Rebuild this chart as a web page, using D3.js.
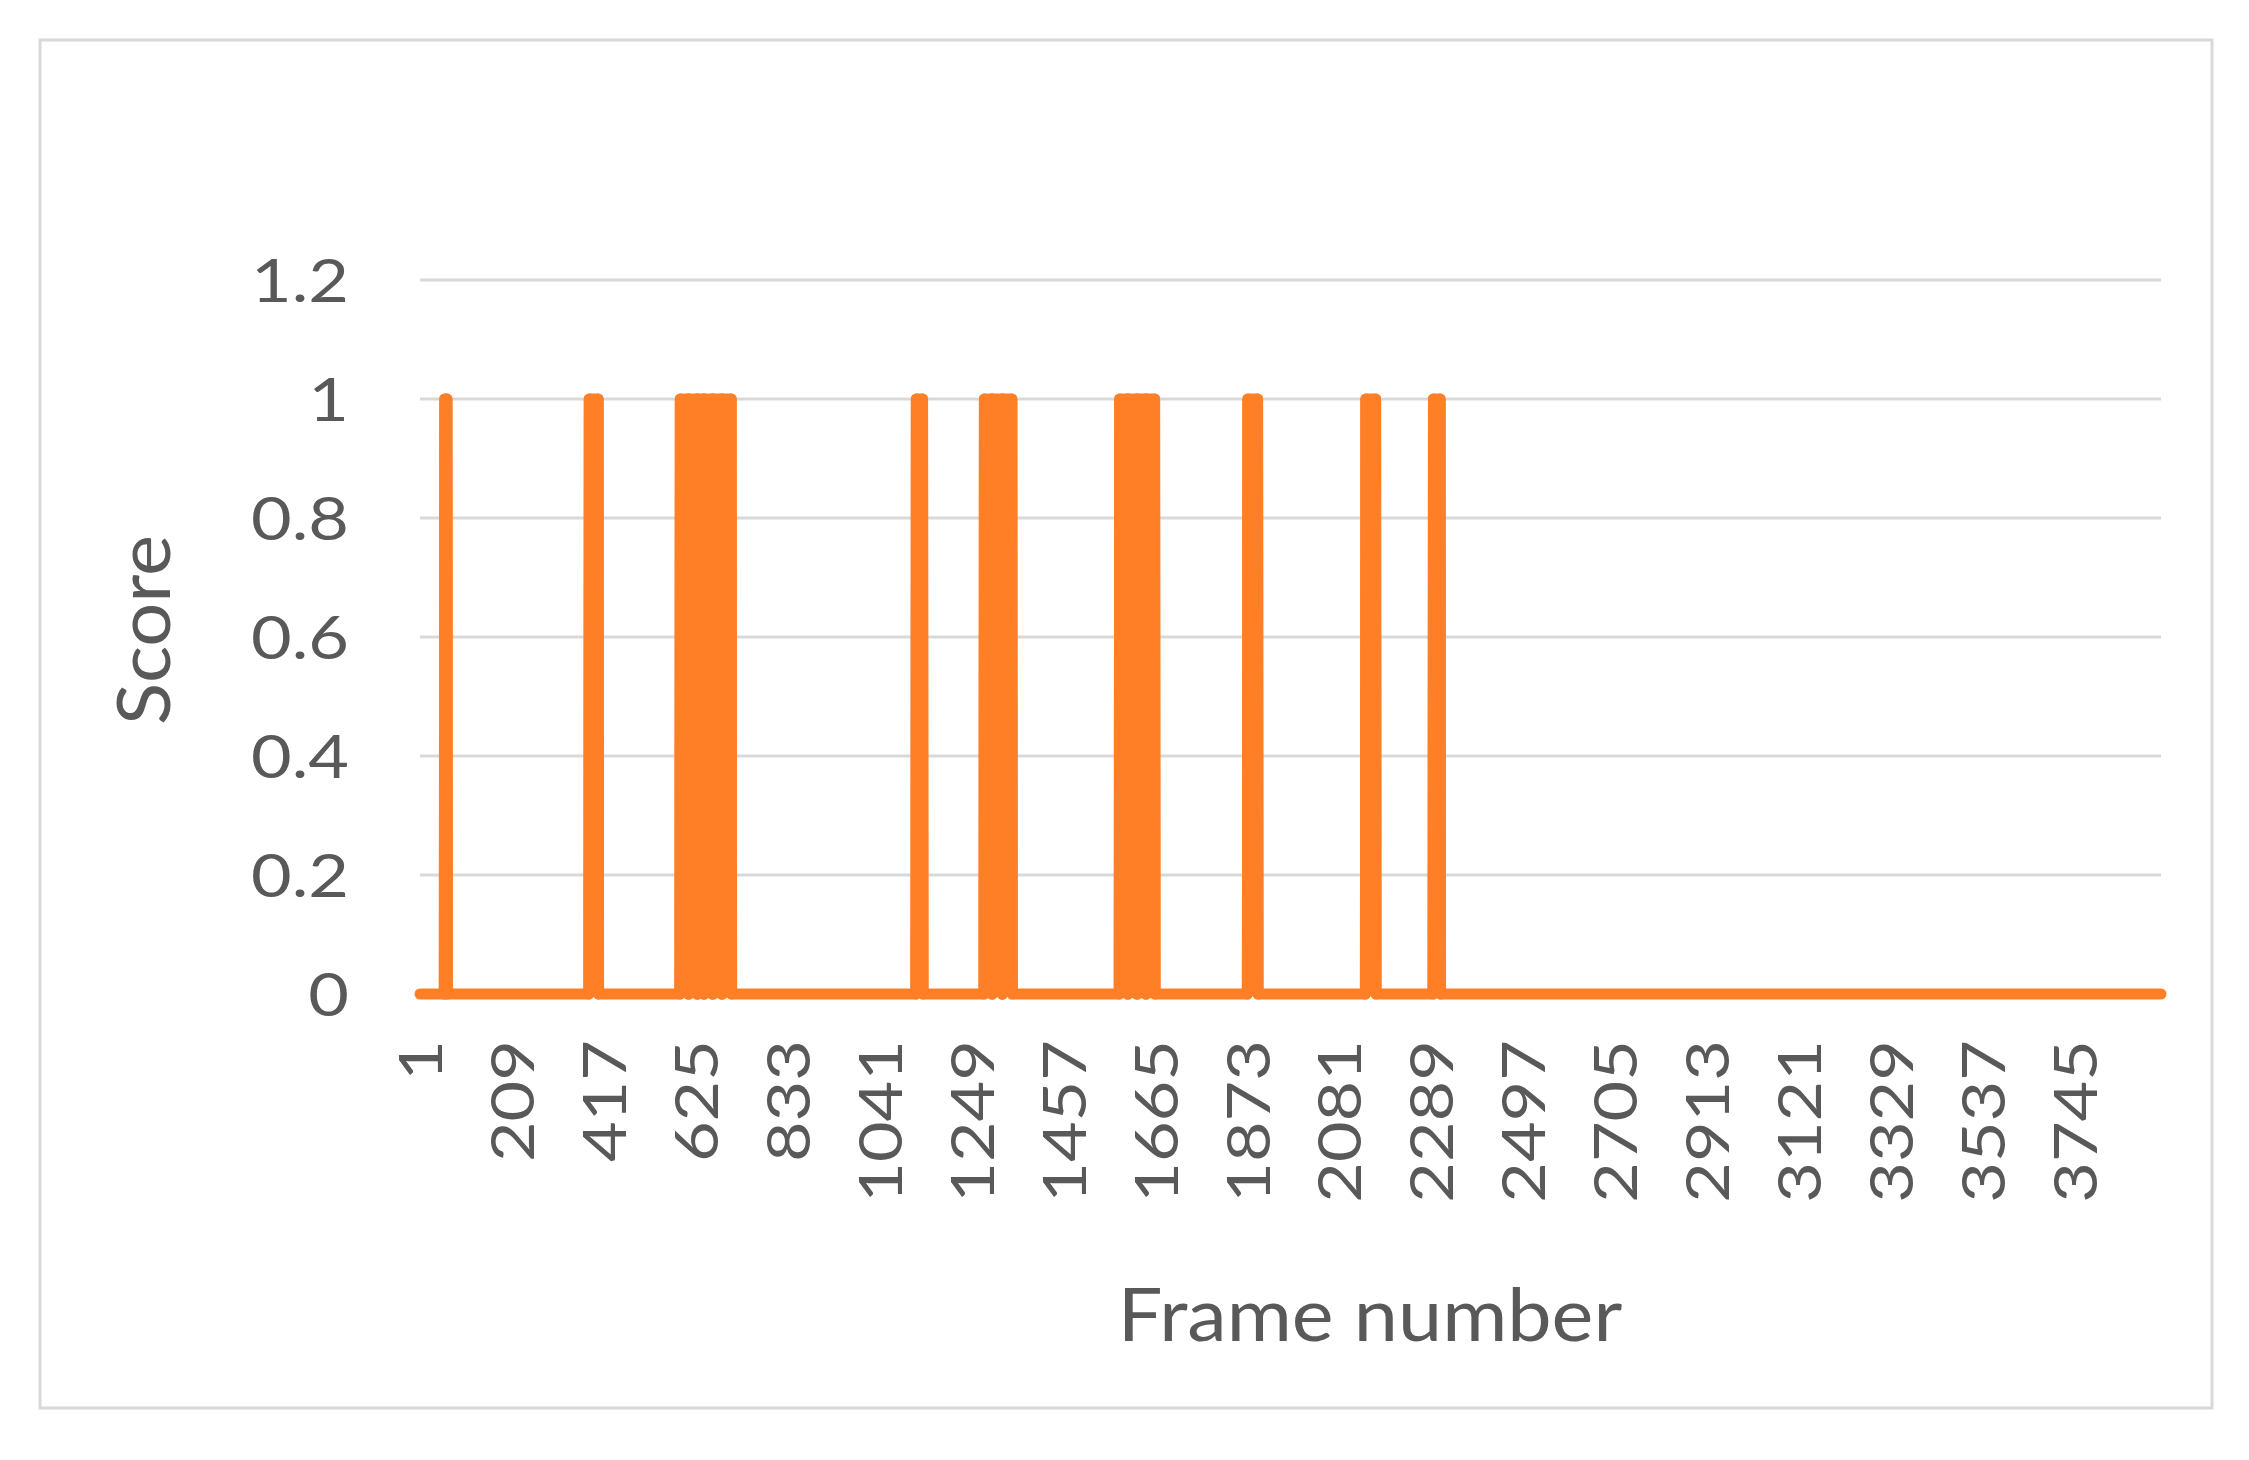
<!DOCTYPE html>
<html>
<head>
<meta charset="utf-8">
<script src="https://cdn.jsdelivr.net/npm/d3@7"></script>
<style>
    body { margin: 0; background: #fff; }
    text { font-family: Lato, "Open Sans", sans-serif; fill: #595959; }
</style>
</head>
<body>
<div id="chart"></div>
<script>
// frames 1..frameCount, score is 1 inside the runs below and 0 elsewhere
const frameCount = 3940;
const runStart = [57, 384, 590, 610, 630, 645, 665, 686, 1124, 1278, 1297, 1320, 1584, 1604, 1625, 1645, 1874, 2141, 2294];
const runEnd   = [62, 404, 607, 627, 642, 662, 683, 705, 1138, 1294, 1317, 1340, 1601, 1622, 1642, 1663, 1896, 2163, 2309];

const xTicks = [1, 209, 417, 625, 833, 1041, 1249, 1457, 1665, 1873, 2081, 2289, 2497, 2705, 2913, 3121, 3329, 3537, 3745];
const yTicks = [0, 0.2, 0.4, 0.6, 0.8, 1, 1.2];

const frames = d3.range(1, frameCount + 1);
const score = frames.map(f => runStart.some((s, i) => f >= s && f <= runEnd[i]) ? 1 : 0);

const width = 2249;
const height = 1460;
const plot = {left: 420, right: 2161, top: 280, bottom: 994};
const orange = "#ff7f27";
const stretch = 1.17; // tick digits are drawn wider than Lato's

const svg = d3.select("#chart").append("svg")
    .attr("width", width)
    .attr("height", height);

svg.append("rect")
    .attr("width", width)
    .attr("height", height)
    .attr("fill", "#fff");

// chart frame
svg.append("rect")
    .attr("x", 40)
    .attr("y", 40)
    .attr("width", 2172)
    .attr("height", 1368)
    .attr("fill", "none")
    .attr("stroke", "#d9d9d9")
    .attr("stroke-width", 3);

const x = d3.scaleLinear()
    .domain([1, frameCount])
    .range([plot.left, plot.right]);

const y = d3.scaleLinear()
    .domain([0, 1.2])
    .range([plot.bottom, plot.top]);

// gridlines
svg.append("g")
    .selectAll("line")
    .data(yTicks)
    .enter()
    .append("line")
    .attr("x1", plot.left)
    .attr("x2", plot.right)
    .attr("y1", d => y(d))
    .attr("y2", d => y(d))
    .attr("stroke", "#d9d9d9")
    .attr("stroke-width", 3);

// y axis labels
const yAxis = svg.append("g")
    .attr("transform", "translate(" + plot.left + ",0)")
    .call(d3.axisLeft(y).tickValues(yTicks).tickSize(0).tickFormat(d => String(d)));
yAxis.select(".domain").remove();
yAxis.selectAll("text")
    .style("font-size", "60px")
    .attr("x", -71 / stretch)
    .attr("transform", "scale(" + stretch + ",1)")
    .attr("dy", "0.36em");

// x axis labels, rotated
const xAxis = svg.append("g")
    .attr("transform", "translate(0," + plot.bottom + ")")
    .call(d3.axisBottom(x).tickValues(xTicks).tickSize(0).tickFormat(d => String(d)));
xAxis.select(".domain").remove();
xAxis.selectAll("text")
    .style("font-size", "60px")
    .attr("text-anchor", "end")
    .attr("transform", "rotate(-90) scale(" + stretch + ",1)")
    .attr("x", -46 / stretch)
    .attr("y", 0)
    .attr("dy", "0.36em");

// score line
const line = d3.line()
    .x((d, i) => x(frames[i]))
    .y(d => y(d));

const lineStyle = sel => sel
    .attr("fill", "none")
    .attr("stroke", orange)
    .attr("stroke-width", 11)
    .attr("stroke-linejoin", "round")
    .attr("stroke-linecap", "round");

svg.append("path")
    .datum(score)
    .attr("d", line)
    .call(lineStyle);

// every up/down step again as its own segment, so the stroker leaves no specks
const steps = frames.slice(0, -1)
    .filter((f, i) => score[i] !== score[i + 1])
    .map(f => [{f: f, v: score[f - 1]}, {f: f + 1, v: score[f]}]);

const stepLine = d3.line()
    .x(d => x(d.f))
    .y(d => y(d.v));

svg.append("g")
    .selectAll("path")
    .data(steps)
    .enter()
    .append("path")
    .attr("d", stepLine)
    .call(lineStyle);

// axis titles
svg.append("text")
    .attr("transform", "translate(170,630) rotate(-90) scale(1.05,1)")
    .attr("text-anchor", "middle")
    .style("font-size", "74px")
    .text("Score");

svg.append("text")
    .attr("transform", "translate(1370,1341) scale(1.07,1)")
    .attr("text-anchor", "middle")
    .style("font-size", "74px")
    .text("Frame number");
</script>
</body>
</html>
